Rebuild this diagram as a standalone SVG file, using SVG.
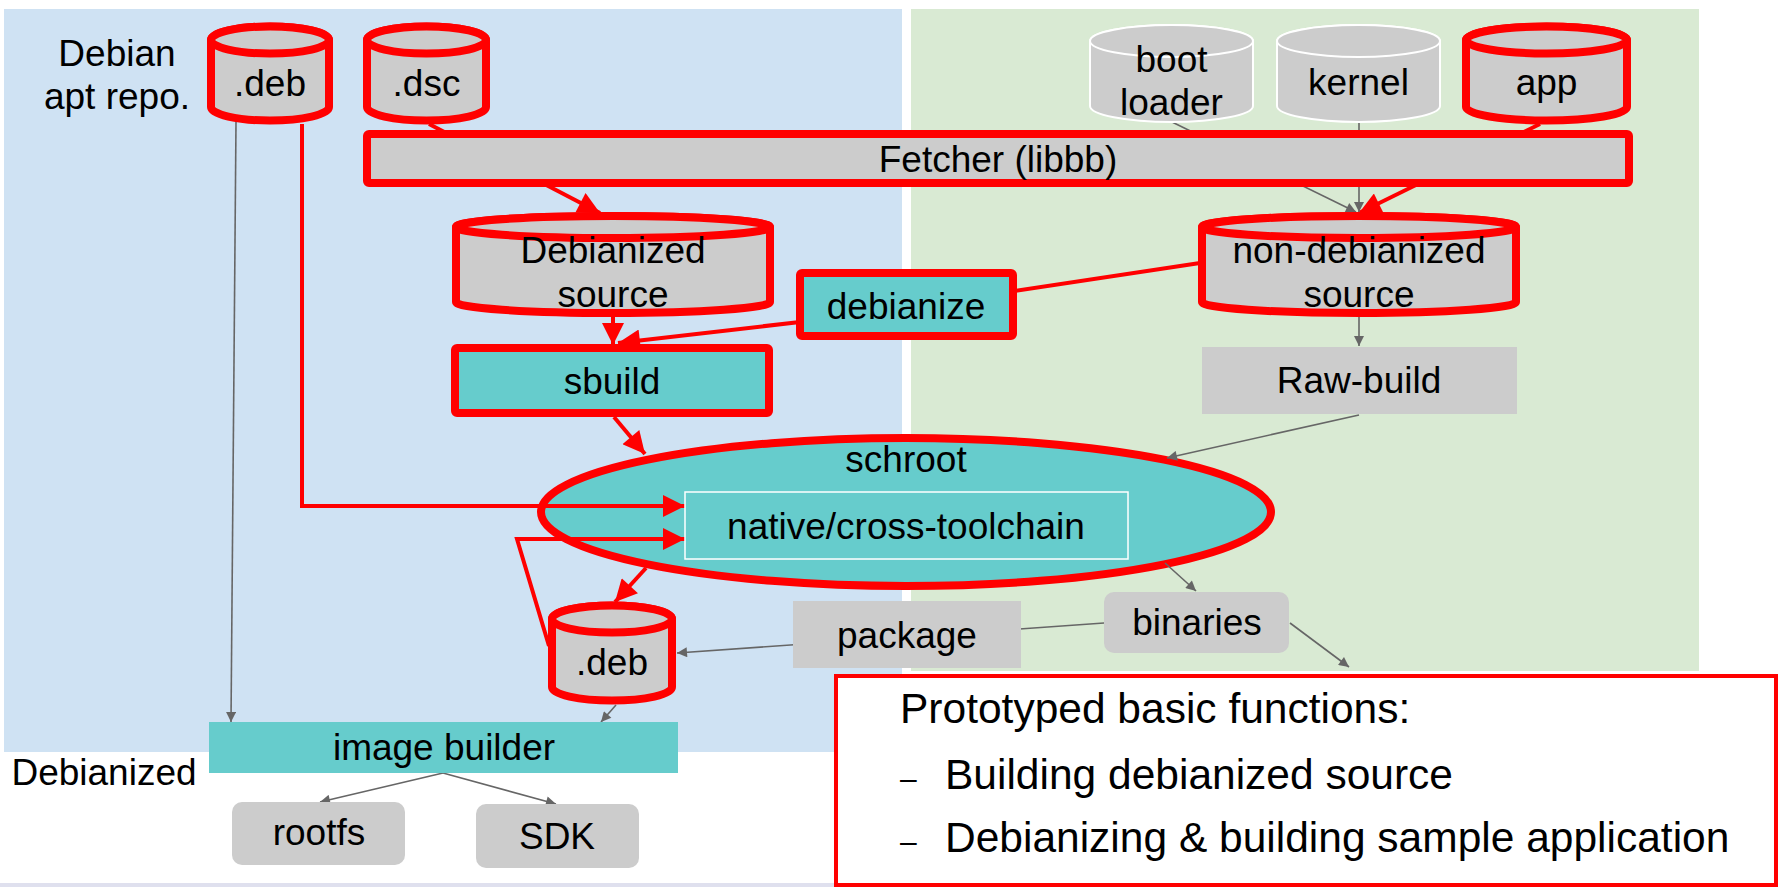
<svg xmlns="http://www.w3.org/2000/svg" width="1778" height="887" viewBox="0 0 1778 887">
  <defs>
    <style>
      text { font-family: "Liberation Sans", Arial, sans-serif; font-size: 37px; fill: #000; text-anchor: middle; }
      .panel-blue { fill: #cfe2f3; }
      .panel-green { fill: #d9ead3; }
      .red-cyl { fill: #cccccc; stroke: #ff0000; stroke-width: 8; }
      .grey-cyl { fill: #cccccc; stroke: #ffffff; stroke-width: 2; }
      .red-box { fill: #cccccc; stroke: #ff0000; stroke-width: 8; }
      .teal-red { fill: #66cccc; stroke: #ff0000; stroke-width: 8; }
      .teal { fill: #66cccc; }
      .grey { fill: #cccccc; }
      .link-red { fill: none; stroke: #ff0000; stroke-width: 4; }
      .link-grey { fill: none; stroke: #666666; stroke-width: 1.6; }
      .note { text-anchor: start; font-size: 42.5px; }
      .bullet { text-anchor: start; font-size: 30px; }
    </style>
    <marker id="arrow-red" viewBox="0 0 10 10" refX="10" refY="5" markerUnits="userSpaceOnUse" markerWidth="24" markerHeight="22" orient="auto">
      <path d="M0,0 L10,5 L0,10 Z" fill="#ff0000"/>
    </marker>
    <marker id="arrow-grey" viewBox="0 0 10 10" refX="10" refY="5" markerUnits="userSpaceOnUse" markerWidth="13" markerHeight="10" orient="auto">
      <path d="M0,0 L10,5 L0,10 Z" fill="#666666"/>
    </marker>
  </defs>

  <!-- background regions -->
  <rect width="1778" height="887" fill="#ffffff"/>
  <rect class="panel-blue" x="4" y="9" width="898" height="743"/>
  <rect class="panel-green" x="911" y="9" width="788" height="662"/>
  <rect x="0" y="883" width="836" height="4" fill="#dfe0ee"/>

  <!-- schroot environment -->
  <g id="schroot">
    <ellipse class="teal-red" cx="906" cy="512" rx="365" ry="74"/>
    <text x="906" y="472">schroot</text>
  </g>

  <!-- connectors -->
  <g id="connectors">
    <line class="link-red" x1="429" y1="124" x2="600" y2="213" marker-end="url(#arrow-red)"/>
    <line class="link-red" x1="1540" y1="124" x2="1359" y2="213" marker-end="url(#arrow-red)"/>
    <line class="link-red" x1="613" y1="314" x2="613" y2="345" marker-end="url(#arrow-red)"/>
    <line class="link-red" x1="800" y1="322" x2="618" y2="343" marker-end="url(#arrow-red)"/>
    <line class="link-red" x1="1200" y1="263" x2="1015" y2="291"/>
    <line class="link-red" x1="614" y1="417" x2="645" y2="454" marker-end="url(#arrow-red)"/>
    <line class="link-red" x1="646" y1="568" x2="615" y2="602" marker-end="url(#arrow-red)"/>
    <polyline class="link-red" points="302,124 302,506 685,506" marker-end="url(#arrow-red)"/>
    <polyline class="link-red" points="549,646 517,539 685,539" marker-end="url(#arrow-red)"/>

    <line class="link-grey" x1="236" y1="122" x2="231" y2="722" marker-end="url(#arrow-grey)"/>
    <line class="link-grey" x1="1172" y1="122" x2="1356" y2="212" marker-end="url(#arrow-grey)"/>
    <line class="link-grey" x1="1359" y1="122" x2="1359" y2="212" marker-end="url(#arrow-grey)"/>
    <line class="link-grey" x1="1359" y1="315" x2="1359" y2="346" marker-end="url(#arrow-grey)"/>
    <line class="link-grey" x1="1359" y1="415" x2="1167" y2="458" marker-end="url(#arrow-grey)"/>
    <line class="link-grey" x1="1165" y1="563" x2="1196" y2="591" marker-end="url(#arrow-grey)"/>
    <line class="link-grey" x1="1104" y1="623" x2="677" y2="653" marker-end="url(#arrow-grey)"/>
    <line class="link-grey" x1="1290" y1="623" x2="1349" y2="667" marker-end="url(#arrow-grey)"/>
    <line class="link-grey" x1="616" y1="705" x2="601" y2="722" marker-end="url(#arrow-grey)"/>
    <line class="link-grey" x1="443" y1="773" x2="320" y2="802" marker-end="url(#arrow-grey)"/>
    <line class="link-grey" x1="443" y1="773" x2="556" y2="804" marker-end="url(#arrow-grey)"/>
  </g>

  <!-- side labels -->
  <g id="label-apt">
    <text x="117" y="66">Debian</text>
    <text x="117" y="109">apt repo.</text>
  </g>
  <g id="label-debianized">
    <text x="104" y="785">Debianized</text>
  </g>

  <!-- source cylinders -->
  <g id="deb-repo">
    <path class="red-cyl" d="M211,40 V107 A59,13.5 0 0 0 329,107 V40 A59,13.5 0 0 0 211,40 Z"/>
    <ellipse class="red-cyl" cx="270" cy="40" rx="59" ry="13.5"/>
    <text x="270" y="96">.deb</text>
  </g>
  <g id="dsc">
    <path class="red-cyl" d="M367,40 V107 A59.5,13.5 0 0 0 486,107 V40 A59.5,13.5 0 0 0 367,40 Z"/>
    <ellipse class="red-cyl" cx="426.5" cy="40" rx="59.5" ry="13.5"/>
    <text x="426.5" y="96">.dsc</text>
  </g>
  <g id="bootloader">
    <path class="grey-cyl" d="M1090,41 V106 A81.5,16 0 0 0 1253,106 V41 A81.5,16 0 0 0 1090,41 Z"/>
    <ellipse class="grey-cyl" cx="1171.5" cy="41" rx="81.5" ry="16"/>
    <text x="1171.5" y="72">boot</text>
    <text x="1171.5" y="115">loader</text>
  </g>
  <g id="kernel">
    <path class="grey-cyl" d="M1277,41 V106 A81.5,16 0 0 0 1440,106 V41 A81.5,16 0 0 0 1277,41 Z"/>
    <ellipse class="grey-cyl" cx="1358.5" cy="41" rx="81.5" ry="16"/>
    <text x="1358.5" y="95">kernel</text>
  </g>
  <g id="app">
    <path class="red-cyl" d="M1466,40 V107 A80.5,13.5 0 0 0 1627,107 V40 A80.5,13.5 0 0 0 1466,40 Z"/>
    <ellipse class="red-cyl" cx="1546.5" cy="40" rx="80.5" ry="13.5"/>
    <text x="1546.5" y="95">app</text>
  </g>

  <!-- fetcher -->
  <g id="fetcher">
    <rect class="red-box" x="367" y="134" width="1262" height="49" rx="2"/>
    <text x="998" y="172">Fetcher (libbb)</text>
  </g>

  <!-- fetched sources -->
  <g id="debianized-source">
    <path class="red-cyl" d="M456,227 V302 A157,11 0 0 0 770,302 V227 A157,11 0 0 0 456,227 Z"/>
    <ellipse class="red-cyl" cx="613" cy="227" rx="157" ry="11"/>
    <text x="613" y="263">Debianized</text>
    <text x="613" y="307">source</text>
  </g>
  <g id="non-debianized-source">
    <path class="red-cyl" d="M1202,227 V302 A157,11 0 0 0 1516,302 V227 A157,11 0 0 0 1202,227 Z"/>
    <ellipse class="red-cyl" cx="1359" cy="227" rx="157" ry="11"/>
    <text x="1359" y="263">non-debianized</text>
    <text x="1359" y="307">source</text>
  </g>

  <!-- build steps -->
  <g id="debianize">
    <rect class="teal-red" x="800" y="273" width="213" height="63" rx="2"/>
    <text x="906" y="319">debianize</text>
  </g>
  <g id="sbuild">
    <rect class="teal-red" x="455" y="348" width="314" height="65" rx="2"/>
    <text x="612" y="394">sbuild</text>
  </g>
  <g id="raw-build">
    <rect class="grey" x="1202" y="347" width="315" height="67"/>
    <text x="1359" y="393">Raw-build</text>
  </g>
  <g id="toolchain">
    <rect x="685" y="492" width="443" height="67" fill="#66cccc" stroke="#ffffff" stroke-width="1.5"/>
    <text x="906" y="539">native/cross-toolchain</text>
  </g>

  <!-- outputs -->
  <g id="binaries">
    <rect class="grey" x="1104" y="592" width="185" height="61" rx="10"/>
    <text x="1197" y="635">binaries</text>
  </g>
  <g id="package">
    <rect class="grey" x="793" y="601" width="228" height="67"/>
    <text x="907" y="648">package</text>
  </g>
  <g id="deb-built">
    <path class="red-cyl" d="M552,619 V687 A60,13.5 0 0 0 672,687 V619 A60,13.5 0 0 0 552,619 Z"/>
    <ellipse class="red-cyl" cx="612" cy="619" rx="60" ry="13.5"/>
    <text x="612" y="675">.deb</text>
  </g>
  <g id="image-builder">
    <rect class="teal" x="209" y="722" width="469" height="51"/>
    <text x="444" y="760">image builder</text>
  </g>
  <g id="rootfs">
    <rect class="grey" x="232" y="802" width="173" height="63" rx="10"/>
    <text x="319" y="845">rootfs</text>
  </g>
  <g id="sdk">
    <rect class="grey" x="476" y="804" width="163" height="64" rx="10"/>
    <text x="557" y="849">SDK</text>
  </g>

  <!-- summary callout -->
  <g id="summary">
    <rect x="836" y="676" width="940" height="209" fill="#ffffff" stroke="#ff0000" stroke-width="4"/>
    <text class="note" x="900" y="723">Prototyped basic functions:</text>
    <text class="bullet" x="900" y="789">–</text>
    <text class="note" x="945" y="789">Building debianized source</text>
    <text class="bullet" x="900" y="852">–</text>
    <text class="note" x="945" y="852">Debianizing &amp; building sample application</text>
  </g>
</svg>
